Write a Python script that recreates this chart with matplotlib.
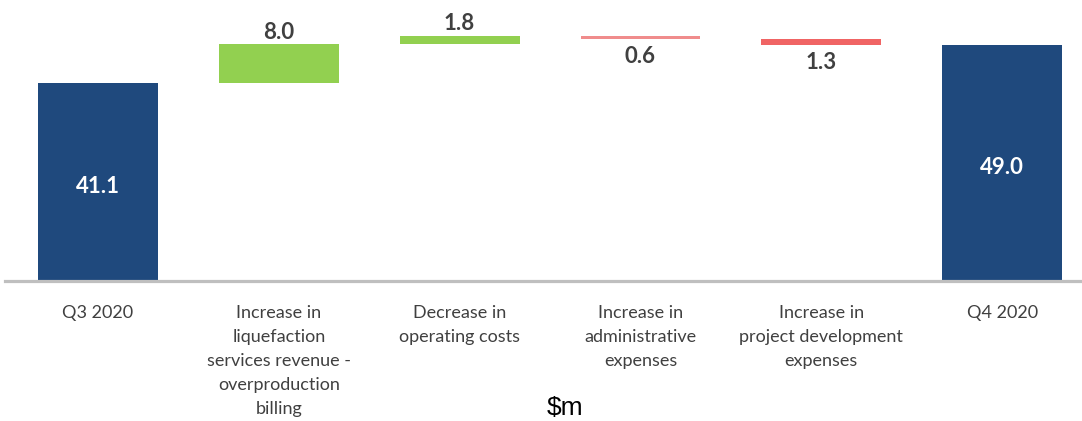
import matplotlib
matplotlib.use("Agg")
import matplotlib.pyplot as plt

categories = ["Q3 2020",
              "Increase in\nliquefaction\nservices revenue -\noverproduction\nbilling",
              "Decrease in\noperating costs",
              "Increase in\nadministrative\nexpenses",
              "Increase in\nproject development\nexpenses",
              "Q4 2020"]
values = [41.1, 8.0, 1.8, -0.6, -1.3, 49.0]
kinds = ["total", "delta", "delta", "delta", "delta", "total"]
labels = ["41.1", "8.0", "1.8", "0.6", "1.3", "49.0"]

NAVY = "#1F497D"
GREEN = "#92D050"
RED_LIGHT = "#F08C8C"
RED = "#F06464"

W, H = 1082, 421
fig = plt.figure(figsize=(W / 100, H / 100), dpi=100)
base_px = 281
ax = fig.add_axes([0, (H - base_px) / H, 1, base_px / H])
px_per_unit = 198 / 41.1
ax.set_ylim(0, base_px / px_per_unit)
ax.set_xlim(-0.542, 5.442)

running = 0.0
for i, (v, k, lab) in enumerate(zip(values, kinds, labels)):
    if k == "total":
        color = NAVY
        running = v
        ax.bar(i, v, bottom=0, width=0.663, color=color, zorder=2)
        ax.annotate(lab, (i, v / 2), xytext=(0, -3), textcoords="offset points",
                    ha="center", va="center", color="white",
                    fontsize=16, fontweight="bold", family="Lato")
    else:
        bottom = running if v > 0 else running + v
        height = abs(v)
        if v > 0:
            color = GREEN
        else:
            color = RED_LIGHT if abs(v) < 1 else RED
        ax.bar(i, height, bottom=bottom, width=0.663, color=color, zorder=2)
        if v > 0:
            ax.annotate(lab, (i, running + v), xytext=(0, 1), textcoords="offset points",
                        ha="center", va="bottom", color="#404040",
                        fontsize=16, fontweight="bold", family="Lato")
        else:
            ax.annotate(lab, (i, running + v), xytext=(0, -5), textcoords="offset points",
                        ha="center", va="top", color="#404040",
                        fontsize=16, fontweight="bold", family="Lato")
        running += v

ax.axhline(0, xmin=5 / W, xmax=1, color="#BFBFBF", linewidth=2.3, zorder=3, clip_on=False)
for s in ax.spines.values():
    s.set_visible(False)
ax.set_yticks([])
ax.set_xticks(range(len(categories)))
ax.set_xticklabels(categories, fontsize=13, color="#404040", family="Lato",
                   linespacing=1.63, va="top")
ax.tick_params(axis="x", length=0, pad=17)

fig.text(565 / W, 1 - 408 / H, "$m", ha="center", va="center", fontsize=19,
         family="Liberation Sans", color="black")

fig.savefig("out.png", dpi=100, facecolor="white")
